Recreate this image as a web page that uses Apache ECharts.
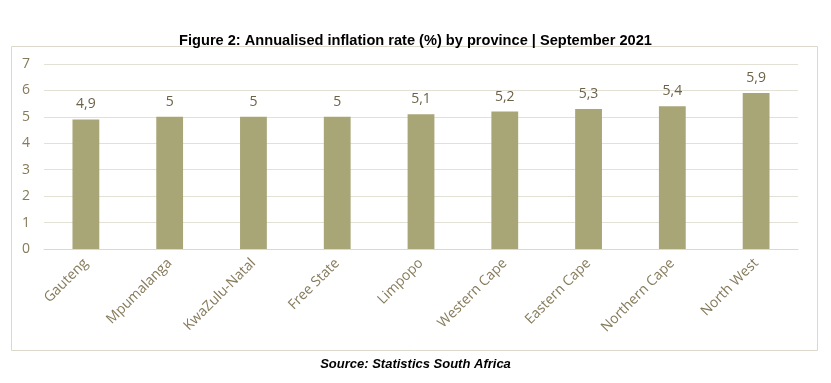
<!DOCTYPE html>
<html><head><meta charset="utf-8">
<script src="https://cdn.jsdelivr.net/npm/echarts@6/dist/echarts.min.js"></script>
<style>html,body{margin:0;padding:0;background:#fff}#c{width:831px;height:383px}</style>
</head><body><div id="c"></div>
<script>
const categories = ['Gauteng','Mpumalanga','KwaZulu-Natal','Free State','Limpopo','Western Cape','Eastern Cape','Northern Cape','North West'];
const values = [4.9,5,5,5,5.1,5.2,5.3,5.4,5.9];
const yTicks = [0,1,2,3,4,5,6,7];
const titleText = 'Figure 2: Annualised inflation rate (%) by province | September 2021';
const sourceText = 'Source: Statistics South Africa';

const chart = echarts.init(document.getElementById('c'), null, {renderer:'canvas'});
chart.setOption({
  animation:false,
  backgroundColor:'#fff',
  title:[
    {text:titleText,left:'center',top:28,textStyle:{fontFamily:'Liberation Sans, Arial',fontWeight:'bold',fontSize:14.6,color:'#000'}},
    {text:sourceText,left:'center',top:353,textStyle:{fontFamily:'Liberation Sans, Arial',fontWeight:'bold',fontStyle:'italic',fontSize:13,color:'#000'}}
  ],
  graphic:[{type:'rect',shape:{x:11.5,y:46.5,width:806,height:304},style:{fill:'none',stroke:'#dcd9cc',lineWidth:1},silent:true}],
  grid:{left:44,right:33,top:64,bottom:134},
  xAxis:{type:'category',data:categories,
    axisLine:{show:true,lineStyle:{color:'#dcd9cc'}},axisTick:{show:false},
    axisLabel:{rotate:45,interval:0,margin:12,fontFamily:'Open Sans',fontSize:14,color:'#857a5a'}},
  yAxis:{type:'value',min:yTicks[0],max:yTicks[yTicks.length-1],interval:1,
    axisLine:{show:false},axisTick:{show:false},
    splitLine:{lineStyle:{color:'#e3e0d5'}},
    axisLabel:{margin:14,fontFamily:'Open Sans',fontSize:14,color:'#857a5a'}},
  series:[{type:'bar',data:values,barWidth:'32%',itemStyle:{color:'#a8a676'},
    label:{show:true,position:'top',distance:8,fontFamily:'Open Sans',fontSize:14,color:'#6b6248',
      formatter:p=>String(p.value).replace('.',',')}}]
});
</script></body></html>
